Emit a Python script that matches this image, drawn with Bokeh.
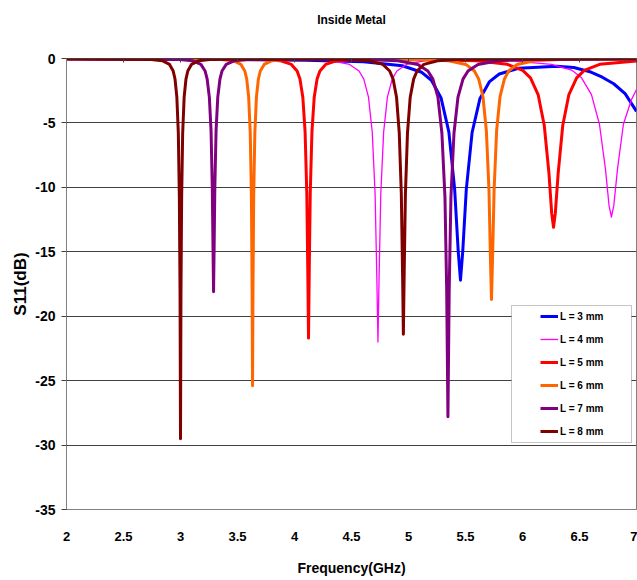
from bokeh.plotting import figure
from bokeh.models import (ColumnDataSource, Legend, LegendItem, BoxAnnotation,
                          LinearAxis, FixedTicker)
from bokeh.embed import file_html
from bokeh.resources import INLINE

# ---------------- data ----------------
freq_L3 = [2.0, 3.0, 4.096, 4.606, 4.946, 5.116, 5.201, 5.286, 5.354, 5.405, 5.436, 5.456,
           5.476, 5.507, 5.558, 5.626, 5.711, 5.796, 5.966, 6.136, 6.3, 6.45, 6.6, 6.7, 6.8,
           6.9, 7.0]
s11_L3 = [-0.02, -0.05, -0.13, -0.25, -0.56, -1.07, -1.69, -3.07, -5.7, -10.15, -14.95, -17.2,
          -14.95, -10.15, -5.74, -3.13, -1.79, -1.2, -0.76, -0.68, -0.6, -0.7, -1.05, -1.45,
          -1.96, -2.73, -4.1]

freq_L4 = [2.0, 3.0, 4.068, 4.317, 4.483, 4.566, 4.608, 4.649, 4.682, 4.707, 4.722, 4.732,
           4.742, 4.757, 4.782, 4.815, 4.857, 4.898, 4.981, 5.147, 5.39, 5.905, 6.255, 6.43,
           6.518, 6.605, 6.675, 6.728, 6.759, 6.78, 6.801, 6.833, 6.885, 6.955, 7.0]
s11_L4 = [-0.02, -0.03, -0.07, -0.17, -0.46, -0.97, -1.6, -3.0, -5.7, -10.5, -16.9, -22.0,
          -16.9, -10.5, -5.7, -3.0, -1.6, -0.97, -0.46, -0.17, -0.14, -0.19, -0.46, -0.9,
          -1.5, -2.8, -5.1, -8.6, -11.4, -12.3, -11.4, -8.6, -5.1, -3.2, -2.4]

freq_L5 = [2.0, 3.0, 3.723, 3.873, 3.973, 4.023, 4.048, 4.073, 4.093, 4.108, 4.117, 4.123,
           4.129, 4.138, 4.153, 4.173, 4.198, 4.223, 4.273, 4.373, 4.523, 5.192, 5.597, 5.867,
           6.002, 6.07, 6.137, 6.191, 6.232, 6.256, 6.272, 6.288, 6.313, 6.353, 6.407, 6.475,
           6.542, 6.677, 7.0]
s11_L5 = [-0.02, -0.03, -0.07, -0.17, -0.46, -0.97, -1.6, -3.0, -5.7, -10.5, -16.8, -21.7,
          -16.8, -10.5, -5.7, -3.0, -1.6, -0.97, -0.46, -0.17, -0.08, -0.09, -0.17, -0.45,
          -0.92, -1.5, -2.8, -5.2, -8.9, -12.0, -13.1, -12.0, -8.9, -5.2, -2.8, -1.5,
          -0.92, -0.45, -0.2]

freq_L6 = [2.0, 3.0, 3.36, 3.462, 3.53, 3.564, 3.581, 3.598, 3.612, 3.622, 3.628, 3.632,
           3.636, 3.642, 3.652, 3.666, 3.683, 3.70, 3.734, 3.802, 3.904, 5.128, 5.353, 5.503,
           5.578, 5.616, 5.653, 5.683, 5.706, 5.719, 5.728, 5.737, 5.751, 5.773, 5.803, 5.841,
           5.878, 5.953, 6.103, 6.328, 7.0]
s11_L6 = [-0.02, -0.04, -0.07, -0.17, -0.46, -0.97, -1.6, -3.0, -5.8, -10.7, -17.7, -25.4,
          -17.7, -10.7, -5.8, -3.0, -1.6, -0.97, -0.46, -0.17, -0.07, -0.07, -0.17, -0.46,
          -0.97, -1.6, -2.95, -5.6, -10.2, -15.6, -18.7, -15.6, -10.2, -5.6, -2.95, -1.6,
          -0.97, -0.46, -0.17, -0.07, -0.03]

freq_L7 = [2.0, 2.994, 3.105, 3.179, 3.216, 3.234, 3.253, 3.268, 3.279, 3.286, 3.29, 3.294,
           3.301, 3.312, 3.327, 3.346, 3.364, 3.401, 3.475, 3.586, 4.642, 4.906, 5.082, 5.17,
           5.214, 5.258, 5.293, 5.32, 5.335, 5.346, 5.357, 5.372, 5.399, 5.434, 5.478, 5.522,
           5.61, 5.786, 6.05, 7.0]
s11_L7 = [-0.03, -0.07, -0.17, -0.46, -0.97, -1.6, -3.0, -5.6, -10.1, -15.3, -18.1, -15.3,
          -10.1, -5.6, -3.0, -1.6, -0.97, -0.46, -0.17, -0.07, -0.07, -0.17, -0.46, -0.97,
          -1.6, -3.0, -5.8, -10.8, -18.0, -27.8, -18.0, -10.8, -5.8, -3.0, -1.6, -0.97,
          -0.46, -0.17, -0.07, -0.03]

freq_L8 = [2.0, 2.744, 2.84, 2.904, 2.936, 2.952, 2.968, 2.981, 2.99, 2.996, 3.0, 3.004,
           3.01, 3.019, 3.032, 3.048, 3.064, 3.096, 3.16, 3.256, 4.0, 4.475, 4.655, 4.775,
           4.835, 4.865, 4.895, 4.919, 4.937, 4.948, 4.955, 4.962, 4.973, 4.991, 5.015, 5.045,
           5.075, 5.135, 5.255, 5.435, 6.0, 7.0]
s11_L8 = [-0.02, -0.07, -0.17, -0.46, -0.97, -1.6, -3.0, -5.8, -10.8, -18.2, -29.5, -18.2,
          -10.8, -5.8, -3.0, -1.6, -0.97, -0.46, -0.17, -0.07, -0.05, -0.07, -0.17, -0.46,
          -0.97, -1.6, -3.0, -5.8, -10.5, -16.7, -21.4, -16.7, -10.5, -5.8, -3.0, -1.6,
          -0.97, -0.46, -0.17, -0.07, -0.03, -0.02]

series_labels = ["L = 3 mm", "L = 4 mm", "L = 5 mm", "L = 6 mm", "L = 7 mm", "L = 8 mm"]
series_colors = ["#0000FF", "#FF00FF", "#FF0000", "#FF6600", "#800080", "#800000"]
series_widths = [3, 1.3, 3, 3, 3, 3]

x_ticks = [2, 2.5, 3, 3.5, 4, 4.5, 5, 5.5, 6, 6.5, 7]
x_tick_labels = ["2", "2.5", "3", "3.5", "4", "4.5", "5", "5.5", "6", "6.5", "7"]
y_ticks = [-35, -30, -25, -20, -15, -10, -5, 0]
y_tick_labels = ["-35", "-30", "-25", "-20", "-15", "-10", "-5", "0"]

freqs = [freq_L3, freq_L4, freq_L5, freq_L6, freq_L7, freq_L8]
vals = [s11_L3, s11_L4, s11_L5, s11_L6, s11_L7, s11_L8]

SANS = "Liberation Sans"
FRAME_W, FRAME_H = 570, 451

# ---------------- figure ----------------
p = figure(frame_width=FRAME_W, frame_height=FRAME_H, x_range=(2, 7), y_range=(-35, 0),
           output_backend="svg", toolbar_location=None,
           min_border_left=66, min_border_right=1, min_border_top=58, min_border_bottom=70,
           background_fill_color="white", border_fill_color="white")
p.outline_line_color = "#808080"
p.outline_line_width = 1

renderers = []
for f, v, c, w in zip(freqs, vals, series_colors, series_widths):
    src = ColumnDataSource(dict(f=f, v=v))
    r = p.line("f", "v", source=src, line_color=c, line_width=w, line_join="round")
    renderers.append(r)

# axes
xa = p.xaxis[0]
xa.ticker = FixedTicker(ticks=x_ticks)
xa.major_label_overrides = dict(zip(x_ticks, x_tick_labels))
xa.axis_line_color = "#808080"
xa.major_tick_in = 0
xa.major_tick_out = 0
xa.minor_tick_line_color = None
xa.major_label_standoff = 22
xa.major_label_text_font = SANS
xa.major_label_text_font_style = "bold"
xa.major_label_text_font_size = "13px"
xa.major_label_text_color = "black"
xa.axis_label = "Frequency(GHz)"
xa.axis_label_text_font = SANS
xa.axis_label_text_font_style = "bold"
xa.axis_label_text_font_size = "14px"
xa.axis_label_text_color = "black"
xa.axis_label_standoff = 16

ya = p.yaxis[0]
ya.ticker = FixedTicker(ticks=y_ticks)
ya.major_label_overrides = dict(zip(y_ticks, y_tick_labels))
ya.axis_line_color = "#808080"
ya.major_tick_in = 0
ya.major_tick_out = 5
ya.major_tick_line_color = "#404040"
ya.minor_tick_line_color = None
ya.major_label_standoff = 6
ya.major_label_text_font = SANS
ya.major_label_text_font_style = "bold"
ya.major_label_text_font_size = "14px"
ya.major_label_text_color = "black"
ya.axis_label = "S11(dB)"
ya.axis_label_text_font = SANS
ya.axis_label_text_font_style = "bold"
ya.axis_label_text_font_size = "17px"
ya.axis_label_text_color = "black"
ya.axis_label_standoff = 2

# top axis: tick marks pointing in, and the chart title as its label
top_axis = LinearAxis(ticker=FixedTicker(ticks=x_ticks), axis_line_color="#404040",
                      major_tick_in=4, major_tick_out=0, major_tick_line_color="#404040",
                      minor_tick_line_color=None, major_label_text_font_size="1px",
                      major_label_text_color=None, major_label_standoff=0,
                      axis_label="Inside Metal", axis_label_standoff=32,
                      axis_label_text_font=SANS, axis_label_text_font_style="bold",
                      axis_label_text_font_size="12px", axis_label_text_color="black")
p.add_layout(top_axis, "above")

p.xgrid.visible = False
p.ygrid.ticker = FixedTicker(ticks=y_ticks)
p.ygrid.grid_line_color = "#404040"
p.ygrid.grid_line_width = 1

# legend frame + legend
box = BoxAnnotation(left=445, right=565, bottom=67, top=204,
                    left_units="screen", right_units="screen",
                    bottom_units="screen", top_units="screen",
                    fill_color="white", fill_alpha=1.0,
                    line_color="#404040", line_width=1)
p.add_layout(box)

items = [LegendItem(label=lab, renderers=[r]) for lab, r in zip(series_labels, renderers)]
legend = Legend(items=items, location=(474, 68), padding=0, margin=0, spacing=3,
                glyph_width=18, glyph_height=20, label_height=20, label_standoff=2,
                label_text_font=SANS, label_text_font_style="bold",
                label_text_font_size="10px", label_text_color="black",
                border_line_color=None, background_fill_alpha=0)
p.add_layout(legend)

open("out.html", "w").write(file_html(p, INLINE))
